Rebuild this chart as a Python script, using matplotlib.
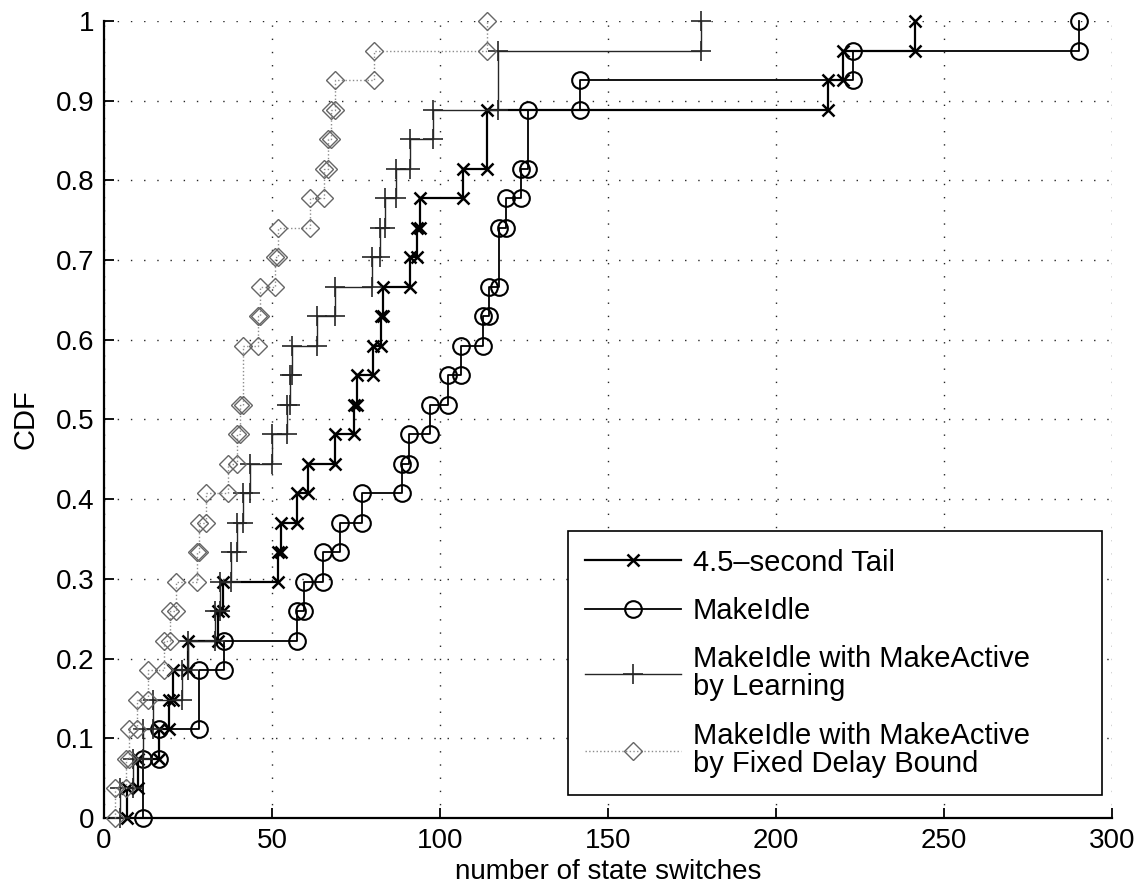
import numpy as np
import matplotlib
matplotlib.use("Agg")
import matplotlib.pyplot as plt

plt.rcParams['font.family'] = ['Liberation Sans', 'DejaVu Sans']

# muestras (27 por serie)
tail = [6.7, 10, 16.4, 19.3, 20.5, 25, 34, 35.4, 51.7, 52.7, 57.3, 60.8, 68.8, 74.3,
        75.4, 80, 82.3, 83.1, 91, 93, 94, 106.8, 114, 114, 215.5, 220, 241.5]
makeidle = [11.7, 11.7, 16.3, 28.3, 28.3, 35.8, 57.5, 59.6, 65.2, 70.2, 76.9, 88.6, 90.9,
            97.0, 102.5, 106.2, 112.9, 114.6, 117.6, 117.6, 119.6, 124.2, 126.3, 126.3,
            141.6, 222.9, 290.2]
learning = [4.8, 8.5, 11.7, 14.7, 23.1, 25, 33, 34.5, 37.8, 39.5, 41.5, 43.5, 49.9, 54.4,
            55.2, 55.9, 63.3, 68.8, 79.7, 82.1, 83.6, 87.0, 91.1, 97.9, 117.4, 117.4, 177.7]
fixed = [3.3, 6.4, 7.4, 9.9, 13.2, 17.9, 19.5, 21.3, 27.8, 28.2, 30.3, 37.0, 39.6, 40.6,
         41.3, 41.3, 45.9, 46.3, 51.0, 51.8, 61.3, 65.5, 66.6, 67.6, 68.6, 80.2, 113.9]

labels = ['4.5\u2013second Tail', 'MakeIdle',
          'MakeIdle with MakeActive\nby Learning',
          'MakeIdle with MakeActive\nby Fixed Delay Bound']


# vertices de la escalera como cdfplot de matlab
def cdf_vertices(vals):
    v = np.sort(np.asarray(vals, dtype=float))
    ux, cnt = np.unique(v, return_counts=True)
    F = np.cumsum(cnt) / len(v)
    xv = np.repeat(ux, 2)
    yv = np.empty_like(xv)
    yv[0::2] = np.r_[0.0, F[:-1]]
    yv[1::2] = F
    return xv, yv


fig = plt.figure(figsize=(11.46, 8.93), dpi=100)
ax = fig.add_axes([0.0908, 0.084, 0.8795, 0.8925])

estilos = [
    dict(color='black', lw=1.6, marker='x', ms=9, mew=1.8, ls='-'),
    dict(color='black', lw=1.3, marker='o', ms=12, mew=1.5, mfc='none', ls='-'),
    dict(color='0.15', lw=1.0, marker='+', ms=14, mew=1.2, ls='-'),
    dict(color='0.55', lw=1.0, marker='D', ms=9, mew=1.0, mfc='none', mec='0.4', ls=':'),
]

for datos, est, lab in zip([tail, makeidle, learning, fixed], estilos, labels):
    xv, yv = cdf_vertices(datos)
    ax.plot(xv, yv, label=lab, clip_on=False, zorder=3, **est)

ax.set_xlim(0, 300)
ax.set_ylim(0, 1)
ax.set_xticks(np.arange(0, 301, 50))
ax.set_yticks(np.arange(0, 1.01, 0.1))
ax.set_yticklabels(['0', '0.1', '0.2', '0.3', '0.4', '0.5', '0.6', '0.7', '0.8', '0.9', '1'])

ax.grid(True, color='0.15', linestyle=(0, (1, 8.5)), linewidth=1.0)
for s in ['top', 'right']:
    ax.spines[s].set_visible(False)
for s in ['left', 'bottom']:
    ax.spines[s].set_linewidth(1.6)
ax.tick_params(direction='in', length=7, width=1.3, labelsize=20, pad=7)

ax.set_xlabel('number of state switches', fontsize=20, labelpad=4)
ax.set_ylabel('CDF', fontsize=21, labelpad=12)

leg = ax.legend(loc='upper left', bbox_to_anchor=(0.46, 0.0, 0.53, 0.36), mode='expand',
                borderaxespad=0, fontsize=21, handlelength=3.3, numpoints=1,
                fancybox=False, framealpha=1, edgecolor='black',
                borderpad=0.6, labelspacing=0.7, handletextpad=0.4)
leg.get_frame().set_linewidth(1.2)
for t in leg.get_texts():
    t.set_linespacing(1.0)

fig.savefig('out.png', dpi=100)
